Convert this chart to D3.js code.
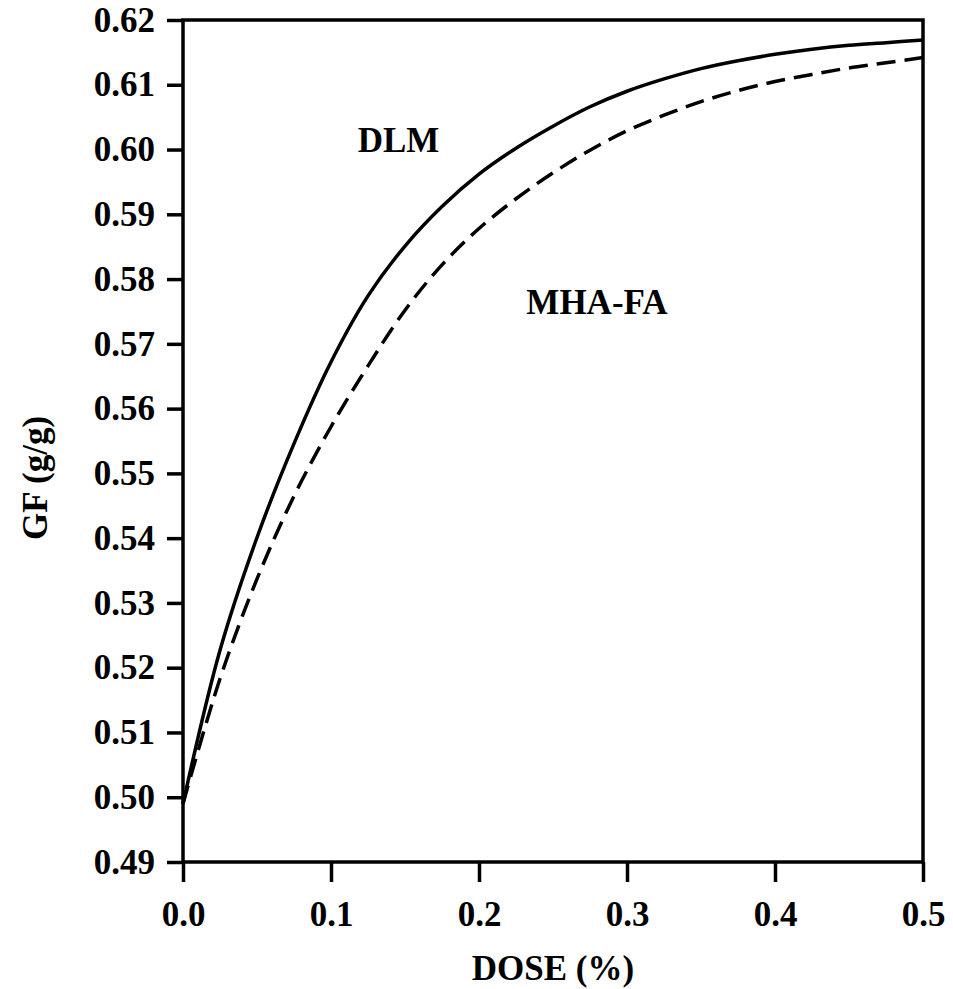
<!DOCTYPE html>
<html>
<head>
<meta charset="utf-8">
<script src="https://cdn.jsdelivr.net/npm/d3@7"></script>
<style>
  body { margin: 0; background: #fff; }
  svg text { font-family: "Liberation Serif", "Times New Roman", serif; font-weight: bold; fill: #000; }
</style>
</head>
<body>
<svg id="chart" width="953" height="989"></svg>
<script>
// dose (%) sampled along the curves
const dose = [0, 0.025, 0.05, 0.075, 0.1, 0.125, 0.15, 0.175, 0.2, 0.225, 0.25,
              0.275, 0.3, 0.325, 0.35, 0.375, 0.4, 0.425, 0.45, 0.475, 0.5];
// GF (g/g)
const dlm = [0.499, 0.5227, 0.5401, 0.5546, 0.5672, 0.5774, 0.5851, 0.5912, 0.5962, 0.6002, 0.6036,
             0.6066, 0.6090, 0.6109, 0.6125, 0.6137, 0.6147, 0.6155, 0.6161, 0.6165, 0.6169];
const mhaFa = [0.499, 0.5183, 0.5337, 0.5465, 0.5572, 0.5666, 0.5752, 0.5822, 0.5878, 0.5924, 0.5964,
               0.5999, 0.6029, 0.6053, 0.6074, 0.6091, 0.6105, 0.6116, 0.6126, 0.6134, 0.6142];
const xTicks = [0, 0.1, 0.2, 0.3, 0.4, 0.5];
const yTicks = [0.49, 0.50, 0.51, 0.52, 0.53, 0.54, 0.55, 0.56, 0.57, 0.58, 0.59, 0.60, 0.61, 0.62];

const margin = {top: 20, right: 30, bottom: 127, left: 183};
const svg = d3.select("#chart");
const width = 953 - margin.left - margin.right;
const height = 989 - margin.top - margin.bottom;

const x = d3.scaleLinear().domain([0, 0.5]).range([0, width]);
const y = d3.scaleLinear().domain([0.49, 0.62]).range([height, 0]);

const g = svg.append("g").attr("transform", `translate(${margin.left},${margin.top})`);

// curves
const line = d3.line()
    .x(d => x(d[0]))
    .y(d => y(d[1]))
    .curve(d3.curveCatmullRom.alpha(0.5));

g.append("path")
    .datum(dose.map((d, i) => [d, dlm[i]]))
    .attr("d", line)
    .attr("fill", "none")
    .attr("stroke", "#000")
    .attr("stroke-width", 3.5);

g.append("path")
    .datum(dose.map((d, i) => [d, mhaFa[i]]))
    .attr("d", line)
    .attr("fill", "none")
    .attr("stroke", "#000")
    .attr("stroke-width", 3.5)
    .attr("stroke-dasharray", "19,9");

// frame
g.append("rect")
    .attr("x", 0).attr("y", 0)
    .attr("width", width).attr("height", height)
    .attr("fill", "none")
    .attr("stroke", "#000")
    .attr("stroke-width", 3.5);

// axes
const xAxis = g.append("g")
    .attr("transform", `translate(0,${height})`)
    .call(d3.axisBottom(x).tickValues(xTicks).tickFormat(d3.format(".1f")).tickSize(20).tickPadding(19));

const yAxis = g.append("g")
    .call(d3.axisLeft(y).tickValues(yTicks).tickFormat(d3.format(".2f")).tickSize(16).tickPadding(12));

[xAxis, yAxis].forEach(a => {
    a.select(".domain").remove();
    a.selectAll(".tick line").attr("stroke", "#000").attr("stroke-width", 3.5);
    a.selectAll(".tick text")
        .attr("font-family", null)
        .style("font-size", "35px");
});

// series labels
g.append("text")
    .attr("x", x(0.118))
    .attr("y", y(0.5996))
    .style("font-size", "35px")
    .text("DLM");

g.append("text")
    .attr("x", x(0.232))
    .attr("y", y(0.5746))
    .style("font-size", "35px")
    .text("MHA-FA");

// axis titles
svg.append("text")
    .attr("x", margin.left + width / 2)
    .attr("y", 980)
    .attr("text-anchor", "middle")
    .style("font-size", "35px")
    .text("DOSE (%)");

svg.append("text")
    .attr("transform", "translate(47,478) rotate(-90)")
    .attr("text-anchor", "middle")
    .style("font-size", "35px")
    .text("GF (g/g)");
</script>
</body>
</html>
